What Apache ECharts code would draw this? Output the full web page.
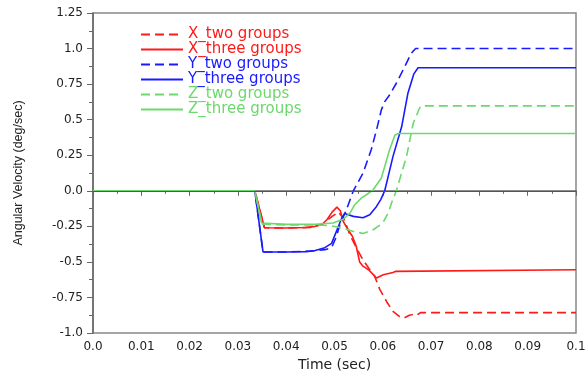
<!DOCTYPE html>
<html>
<head>
<meta charset="utf-8">
<script src="https://cdn.jsdelivr.net/npm/echarts@6/dist/echarts.min.js"></script>
<style>
  html, body { margin: 0; padding: 0; background: #fff; }
  #chart { width: 585px; height: 374px; }
</style>
</head>
<body>
<div id="chart"></div>
<script>
// [time (sec), angular velocity (deg/sec)]
const xTwo = [[0, 0], [0.0335, 0], [0.0355, -0.26], [0.040, -0.262], [0.045, -0.258], [0.0475, -0.235],
  [0.0495, -0.18], [0.0508, -0.15], [0.052, -0.2], [0.0532, -0.31], [0.0545, -0.40], [0.0559, -0.485],
  [0.0572, -0.55], [0.0583, -0.6], [0.0594, -0.695], [0.0608, -0.78], [0.0621, -0.848], [0.0635, -0.885],
  [0.0644, -0.894], [0.0655, -0.875], [0.066, -0.872], [0.0663, -0.88], [0.0668, -0.862], [0.0673, -0.868],
  [0.0678, -0.857], [0.1, -0.857]];
const xThree = [[0, 0], [0.0335, 0], [0.0355, -0.26], [0.040, -0.262], [0.044, -0.258], [0.046, -0.25],
  [0.0475, -0.235], [0.0485, -0.2], [0.0495, -0.15], [0.0505, -0.115], [0.0512, -0.14], [0.0518, -0.215],
  [0.0528, -0.274], [0.0537, -0.32], [0.0545, -0.39], [0.0552, -0.5], [0.0559, -0.53], [0.0572, -0.56],
  [0.0587, -0.613], [0.059, -0.615], [0.0601, -0.59], [0.0621, -0.574], [0.0624, -0.56], [0.0626, -0.567],
  [0.063, -0.555], [0.1, -0.555]];
const yTwo = [[0, 0], [0.0335, 0], [0.0352, -0.43], [0.040, -0.43], [0.045, -0.425], [0.048, -0.414],
  [0.0494, -0.40], [0.0503, -0.33], [0.0511, -0.24], [0.0525, -0.13], [0.0539, 0.0], [0.0559, 0.124],
  [0.0576, 0.288], [0.0587, 0.428], [0.0597, 0.569], [0.0604, 0.627], [0.0614, 0.674], [0.0628, 0.756],
  [0.0642, 0.85], [0.0659, 0.967], [0.0668, 1.0], [0.1, 1.0]];
const yThree = [[0, 0], [0.0335, 0], [0.0352, -0.43], [0.040, -0.43], [0.044, -0.428], [0.046, -0.42],
  [0.048, -0.40], [0.0494, -0.37], [0.0514, -0.2], [0.0521, -0.16], [0.0539, -0.18], [0.0559, -0.19],
  [0.0573, -0.168], [0.0587, -0.11], [0.0596, -0.06], [0.0604, 0.0], [0.0621, 0.24], [0.0639, 0.45],
  [0.0652, 0.686], [0.0664, 0.82], [0.0673, 0.865], [0.1, 0.865]];
const zTwo = [[0, 0], [0.0335, 0], [0.035, -0.235], [0.040, -0.24], [0.046, -0.24], [0.049, -0.245],
  [0.0518, -0.262], [0.0539, -0.286], [0.0559, -0.30], [0.058, -0.274], [0.06, -0.227], [0.0612, -0.15],
  [0.0618, -0.086], [0.0628, 0.0], [0.0649, 0.24], [0.0663, 0.475], [0.0676, 0.58], [0.068, 0.597],
  [0.1, 0.597]];
const zThree = [[0, 0], [0.0335, 0], [0.0349, -0.227], [0.0352, -0.235], [0.040, -0.236], [0.046, -0.235],
  [0.0497, -0.227], [0.0518, -0.20], [0.0532, -0.157], [0.0542, -0.098], [0.0556, -0.05], [0.0566, -0.028],
  [0.058, 0.007], [0.0597, 0.09], [0.06, 0.124], [0.0614, 0.288], [0.0625, 0.39], [0.0632, 0.403],
  [0.1, 0.403]];

const seriesNames = ['X_two groups', 'X_three groups', 'Y_two groups', 'Y_three groups', 'Z_two groups', 'Z_three groups'];
const seriesData = [xTwo, xThree, yTwo, yThree, zTwo, zThree];
const seriesColors = ['#ff1a1a', '#ff1a1a', '#1a1aff', '#1a1aff', '#6bd96b', '#6bd96b'];
const seriesDashed = [true, false, true, false, true, false];

const xTickLabels = ['0.0', '0.01', '0.02', '0.03', '0.04', '0.05', '0.06', '0.07', '0.08', '0.09', '0.1'];
const yTickLabels = ['-1.0', '-0.75', '-0.5', '-0.25', '0.0', '0.25', '0.5', '0.75', '1.0', '1.25'];
const xMin = 0, xMax = 0.1, xStep = 0.01;
const yMin = -1, yMax = 1.25, yStep = 0.25;

const axisFont = { fontFamily: 'DejaVu Sans', fontSize: 12, color: '#222' };

const chart = echarts.init(document.getElementById('chart'));

const series = seriesNames.map((name, i) => ({
  name: name,
  type: 'line',
  data: seriesData[i],
  showSymbol: false,
  symbol: 'none',
  z: 3,
  lineStyle: {
    color: seriesColors[i],
    width: 1.6,
    type: seriesDashed[i] ? [9, 5] : 'solid'
  },
  itemStyle: { color: seriesColors[i] }
}));

// gray reference line at zero
series.push({
  name: 'zero',
  type: 'line',
  data: [],
  z: 2,
  markLine: {
    silent: true,
    symbol: 'none',
    label: { show: false },
    lineStyle: { color: '#555', width: 1.2, type: 'solid' },
    data: [{ yAxis: 0 }]
  }
});

chart.setOption({
  animation: false,
  grid: {
    left: 93, right: 9, top: 13, bottom: 41,
    show: true,
    borderColor: '#888',
    borderWidth: 1.5,
    outerBoundsMode: 'none'
  },
  legend: {
    orient: 'vertical',
    left: 140,
    top: 27,
    padding: 0,
    itemWidth: 42,
    itemHeight: 10,
    itemGap: 0,
    // keep only the line in each legend icon, no marker
    itemStyle: { color: 'rgba(0,0,0,0)', borderWidth: 0, opacity: 0 },
    textStyle: { fontFamily: 'DejaVu Sans', fontSize: 15, lineHeight: 14.8 },
    data: seriesNames.map((n, i) => ({ name: n, textStyle: { color: seriesColors[i] } }))
  },
  xAxis: {
    type: 'value',
    min: xMin, max: xMax, interval: xStep,
    name: 'Time (sec)',
    nameLocation: 'middle',
    nameGap: 25,
    nameTextStyle: { fontFamily: 'DejaVu Sans', fontSize: 14, color: '#222' },
    axisLine: { lineStyle: { color: '#666', width: 1.5 } },
    axisTick: { show: true, inside: false, length: 5, lineStyle: { color: '#666' } },
    minorTick: { show: true, splitNumber: 2, length: 3, lineStyle: { color: '#666' } },
    splitLine: { show: false },
    axisLabel: Object.assign({
      margin: 8,
      showMaxLabel: true,
      formatter: v => xTickLabels[Math.round((v - xMin) / xStep)]
    }, axisFont)
  },
  yAxis: {
    type: 'value',
    min: yMin, max: yMax, interval: yStep,
    name: 'Angular Velocity (deg/sec)',
    nameLocation: 'middle',
    nameGap: 68,
    nameTextStyle: { fontFamily: 'Liberation Sans', fontSize: 12.5, color: '#222' },
    axisLine: { lineStyle: { color: '#666', width: 1.5 } },
    axisTick: { show: true, inside: false, length: 6, lineStyle: { color: '#666' } },
    minorTick: { show: true, splitNumber: 2, length: 4, lineStyle: { color: '#666' } },
    splitLine: { show: false },
    axisLabel: Object.assign({
      margin: 10,
      formatter: v => yTickLabels[Math.round((v - yMin) / yStep)]
    }, axisFont)
  },
  series: series
});
</script>
</body>
</html>
